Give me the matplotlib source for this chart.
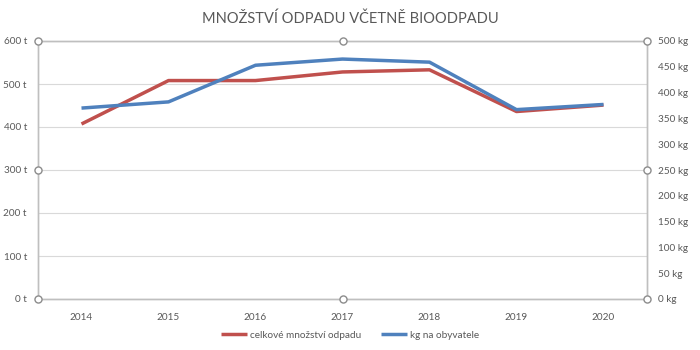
import matplotlib.pyplot as plt
from matplotlib.ticker import FuncFormatter

years = ['2014', '2015', '2016', '2017', '2018', '2019', '2020']
total_t = [407, 508, 508, 528, 533, 436, 451]
kg_per_person = [370, 382, 453, 465, 459, 367, 377]

plt.rcParams['font.family'] = ['Lato', 'DejaVu Sans']

fig = plt.figure(figsize=(7, 3.5), dpi=100)
ax = fig.add_axes([38 / 700, 1 - 299 / 350, 609 / 700, 258 / 350])
ax2 = ax.twinx()

x = list(range(len(years)))
red, = ax.plot(x, total_t, color='#C0504D', lw=2.5, solid_capstyle='butt',
               label='celkové množství odpadu')
blue, = ax2.plot(x, kg_per_person, color='#4F81BD', lw=2.5, solid_capstyle='butt',
                 label='kg na obyvatele')

ax.set_xlim(-0.5, len(years) - 0.5)
ax.set_ylim(0, 600)
ax2.set_ylim(0, 500)
ax.set_yticks(range(0, 601, 100))
ax2.set_yticks(range(0, 501, 50))
ax.yaxis.set_major_formatter(FuncFormatter(lambda v, p: f'{int(v)} t'))
ax2.yaxis.set_major_formatter(FuncFormatter(lambda v, p: f'{int(v)} kg'))
ax.set_xticks(x)
ax.set_xticklabels(years)

ax.grid(axis='y', color='#D9D9D9', lw=0.8)
ax.set_axisbelow(True)
for a in (ax, ax2):
    for s in a.spines.values():
        s.set_color('#BFBFBF')
        s.set_linewidth(1.0)
    a.tick_params(length=0, labelsize=7.2, colors='#595959', pad=8)
ax.tick_params(axis='x', pad=10)

# selection handles around the plot area
hx = [0, 0.5, 1, 0, 1, 0, 0.5, 1]
hy = [1, 1, 1, 0.5, 0.5, 0, 0, 0]
ax2.scatter(hx, hy, s=26, facecolor='white', edgecolor='#8C8C8C', lw=1,
            transform=ax.transAxes, clip_on=False, zorder=5)

fig.text(0.5, 0.947, 'MNOŽSTVÍ ODPADU VČETNĚ BIOODPADU', ha='center', va='center',
         fontsize=10.5, color='#595959')

fig.legend(handles=[red, blue], loc='center', bbox_to_anchor=(350 / 700, 1 - 335 / 350),
           ncol=2, frameon=False, fontsize=7.2, labelcolor='#595959',
           handlelength=2.6, handletextpad=0.3, columnspacing=2.0)

fig.savefig('out.png', dpi=100)
